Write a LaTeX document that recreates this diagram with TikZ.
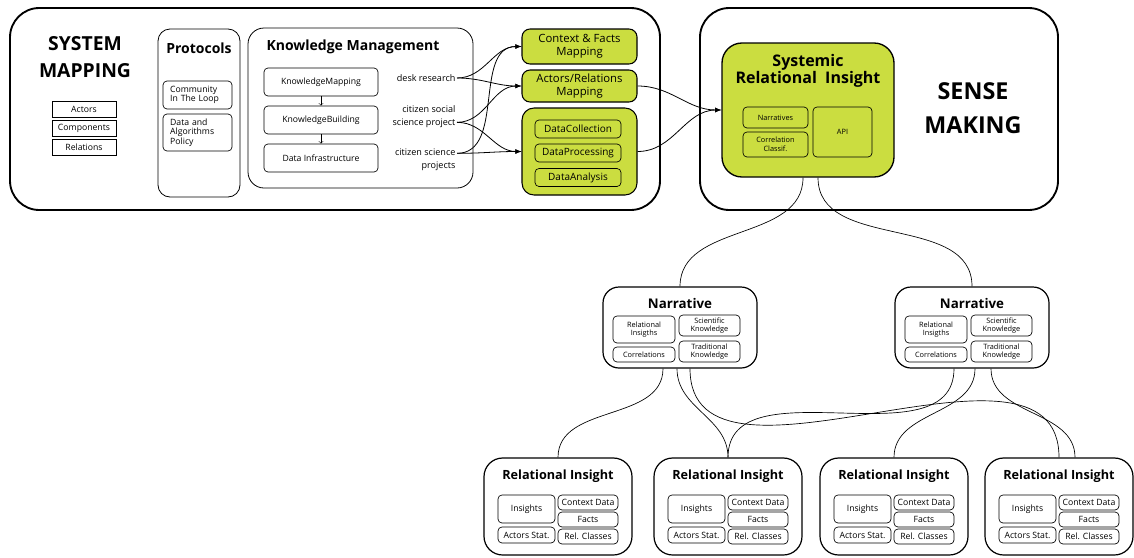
\documentclass[tikz,border=0pt]{standalone}
\usepackage{fontspec}
\setmainfont{Open Sans}
\usepackage{tikz}
\usetikzlibrary{arrows,calc}
\definecolor{srgreen}{RGB}{203,221,64}

\begin{document}
\begin{tikzpicture}[x=0.75pt,y=-0.75pt,
  sz/.style 2 args={minimum width=#1*0.75pt,minimum height=#2*0.75pt},
  outer/.style={draw,line width=1.4pt,rounded corners=22pt,inner sep=0pt},
  group/.style={draw,line width=0.6pt,rounded corners=9pt,inner sep=0pt},
  item/.style={draw,line width=0.5pt,rounded corners=3pt,inner sep=1pt,align=center},
  tag/.style={draw,line width=0.5pt,inner sep=1pt,font=\fontsize{6.5}{7}\selectfont},
  mapped/.style={draw,line width=0.8pt,fill=srgreen,rounded corners=6pt,inner sep=1pt,align=center,font=\fontsize{8.5}{9.75}\selectfont},
  big/.style={font=\bfseries\fontsize{14.5}{20}\selectfont,align=center},
  head/.style={font=\bfseries\fontsize{10.5}{12}\selectfont,align=center},
  note/.style={font=\fontsize{6.8}{9.75}\selectfont,align=right,inner sep=1pt,anchor=east},
  link/.style={line width=0.5pt},
  feed/.style={line width=0.6pt,-latex}]
\useasboundingbox (0,0) rectangle (1134,557);

\node[outer,sz={650}{202}] (sysmap) at (335,109) {};
\node[outer,sz={358}{202}] (sense) at (879,109) {};
\node[big] (systitle) at (85,57) {SYSTEM\\MAPPING};
\node[big,font=\bfseries\fontsize{17.5}{25}\selectfont] (sensetitle) at (973,108) {SENSE\\MAKING};

\foreach \lbl [count=\i] in {Actors,Components,Relations}
  \node[tag,sz={64}{16}] (part\i) at (84,90+19*\i) {\lbl};

\node[group,sz={82}{168}] (proto) at (199,113) {};
\node[head] (prototitle) at (199,48) {Protocols};
\node[item,sz={69}{28},align=left,text width=41pt,inner xsep=5pt,font=\fontsize{6.5}{7}\selectfont] (loop) at (197.5,95) {Community\\In The Loop};
\node[item,sz={69}{37},align=left,text width=41pt,inner xsep=5pt,font=\fontsize{6.5}{7}\selectfont] (policy) at (197.5,132.5) {Data and\\Algorithms\\Policy};

\node[group,sz={225}{160},rounded corners=12pt] (km) at (360.5,108) {};
\node[head] (kmtitle) at (353,47) {Knowledge Management};
\node[item,sz={114}{28},font=\fontsize{6.5}{7}\selectfont] (kmap) at (321,82) {KnowledgeMapping};
\node[item,sz={114}{28},font=\fontsize{6.5}{7}\selectfont] (kbuild) at (321,120) {KnowledgeBuilding};
\node[item,sz={114}{28},font=\fontsize{6.5}{7}\selectfont] (kinfra) at (321,158) {Data Infrastructure};
\draw[-to,line width=0.4pt] (kmap) -- (kbuild);
\draw[-to,line width=0.4pt] (kbuild) -- (kinfra);

\node[note] (desk) at (457,78) {desk research};
\node[note] (social) at (457,117) {citizen social\\science project};
\node[note] (citsci) at (457,160) {citizen science\\projects};

\node[mapped,sz={115}{35}] (ctx) at (579.5,46.5) {Context \& Facts\\Mapping};
\node[mapped,sz={115}{32}] (act) at (579.5,86) {Actors/Relations\\Mapping};
\node[mapped,sz={115}{87},rounded corners=9pt] (data) at (579.5,151.5) {};
\foreach \lbl/\y in {DataCollection/129,DataProcessing/153,DataAnalysis/177.5}
  \node[item,fill=srgreen,sz={86}{18},font=\fontsize{7.5}{8}\selectfont] (\lbl) at (578,\y) {\lbl};

\draw[feed] (desk.east) to[out=0,in=180] (ctx.west);
\draw[feed] (desk.east) to[out=0,in=180] (act.west);
\draw[feed] ([yshift=-4pt]social.east) to[out=0,in=180] (act.west);
\draw[feed] ([yshift=-4pt]social.east) to[out=0,in=180] (data.west);
\draw[feed] ([yshift=5pt]citsci.east) to[out=0,in=180] (ctx.west);
\draw[feed] ([yshift=5pt]citsci.east) to[out=0,in=180] (data.west);

\node[mapped,sz={172}{134},rounded corners=15pt,line width=1pt] (sri) at (808,110) {};
\node[head,font=\bfseries\fontsize{12}{12.75}\selectfont] (srititle) at (808,71) {Systemic\\Relational\ \ Insight};
\node[item,sz={65}{21},font=\fontsize{5.5}{6.5}\selectfont] (srinar) at (775.5,117.5) {Narratives};
\node[item,sz={65}{25},font=\fontsize{5.5}{6.5}\selectfont] (sricor) at (775.5,144.5) {Correlation\\Classif.};
\node[item,sz={59}{50},font=\fontsize{5.5}{6.5}\selectfont] (sriapi) at (842.5,132) {API};

\draw[feed] (act.east) to[out=0,in=180] (sri.west);
\draw[feed] (data.east) to[out=0,in=180] (sri.west);

\foreach \n/\cx in {1/680,2/972} {
  \node[group,sz={154}{81},rounded corners=12pt,line width=0.9pt] (nar\n) at (\cx,327.5) {};
  \node[head,font=\bfseries\fontsize{10}{11}\selectfont] (nar\n-title) at (\cx,303) {Narrative};
  \node[item,sz={62}{27},font=\fontsize{5.5}{6.5}\selectfont] (nar\n-rel) at (\cx-36,329.5) {Relational\\Insigths};
  \node[item,sz={62}{15},font=\fontsize{5.5}{6.5}\selectfont] (nar\n-cor) at (\cx-36,354.5) {Correlations};
  \node[item,sz={61}{21},font=\fontsize{5.5}{6.5}\selectfont] (nar\n-sci) at (\cx+29.5,325.5) {Scientific\\Knowledge};
  \node[item,sz={61}{21},font=\fontsize{5.5}{6.5}\selectfont] (nar\n-tra) at (\cx+29.5,351.5) {Traditional\\Knowledge};
}

\foreach \n/\cx in {1/558,2/728,3/894,4/1059} {
  \node[group,sz={148}{97},rounded corners=14pt,line width=0.9pt] (ri\n) at (\cx,506.5) {};
  \node[head,font=\bfseries\fontsize{9.5}{11}\selectfont] (ri\n-title) at (\cx,476) {Relational Insight};
  \node[item,sz={57}{28},font=\fontsize{6.5}{7}\selectfont] (ri\n-ins) at (\cx-31.5,509) {Insights};
  \node[item,sz={57}{16},font=\fontsize{6.5}{7}\selectfont] (ri\n-act) at (\cx-31.5,535) {Actors Stat.};
  \node[item,sz={60}{15},font=\fontsize{6.5}{7}\selectfont] (ri\n-ctx) at (\cx+30,502.5) {Context Data};
  \node[item,sz={60}{15},font=\fontsize{6.5}{7}\selectfont] (ri\n-fac) at (\cx+30,519.5) {Facts};
  \node[item,sz={60}{15},font=\fontsize{6.5}{7}\selectfont] (ri\n-cls) at (\cx+30,536.5) {Rel. Classes};
}

\draw[link] ($(sri.south)+(-5,0)$) to[out=-90,in=90] (nar1.north);
\draw[link] ($(sri.south)+(10,0)$) to[out=-90,in=90] (nar2.north);

\draw[link] ($(nar1.south)+(-17,0)$) to[out=-90,in=90] (ri1.north);
\draw[link] ($(nar1.south)+(-3,0)$) to[out=-90,in=90] (ri2.north);
\draw[link] ($(nar1.south)+(10,0)$) to[out=-90,in=90] (ri4.north);
\draw[link] ($(nar2.south)+(-18,0)$) to[out=-90,in=90] (ri2.north);
\draw[link] ($(nar2.south)+(3,0)$) to[out=-90,in=90] (ri3.north);
\draw[link] ($(nar2.south)+(19,0)$) to[out=-90,in=90] ($(ri4.north)+(16,0)$);
\end{tikzpicture}
\end{document}
